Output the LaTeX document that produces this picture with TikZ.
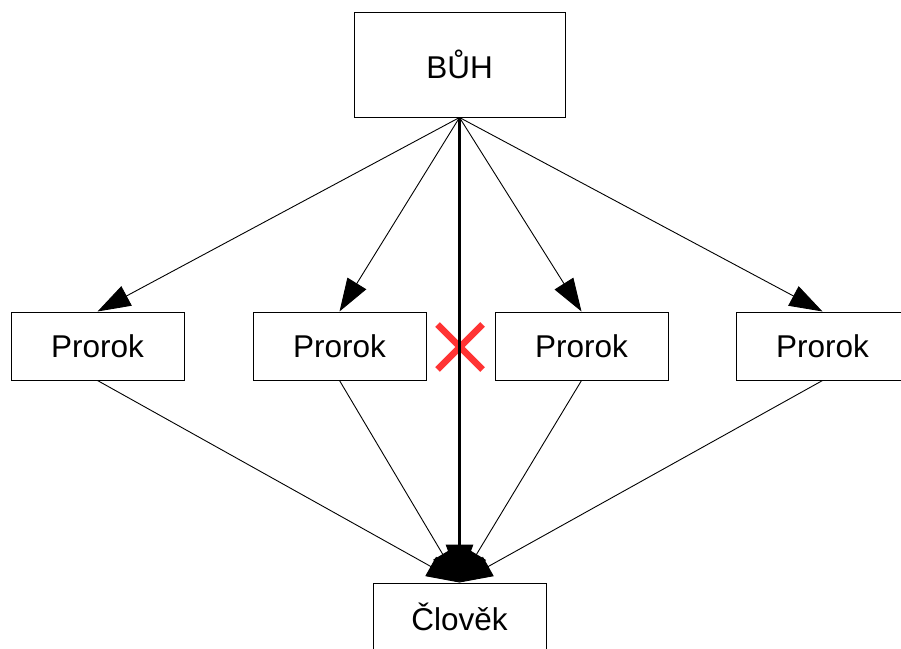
\documentclass[tikz,border=0pt]{standalone}
\usepackage{fontspec}
\setmainfont{Liberation Sans}
\usetikzlibrary{arrows.meta,calc}
\begin{document}
\begin{tikzpicture}[x=1pt,y=-1pt,
  box/.style={draw=black,line width=1pt,fill=white,inner sep=0pt,minimum height=68pt,minimum width=173pt,font=\fontsize{31.5}{37}\selectfont},
  thin arrow/.style={draw=black,line width=0.9pt,-{Triangle[length=33pt,width=22pt]}},
  thick arrow/.style={draw=black,line width=3pt,-{Triangle[length=38pt,width=27pt]}},
  cross/.style={draw={rgb,255:red,255;green,51;blue,51},line width=6.5pt}]
\useasboundingbox (0,0) rectangle (901,648);
\fill[white] (0,0) rectangle (901,648);
\node[box,minimum width=211pt,minimum height=105pt] (buh) at (459.5,64.5) {BŮH};
\node[box] (p1) at (97.5,346) {Prorok};
\node[box] (p2) at (339.5,346) {Prorok};
\node[box] (p3) at (581.5,346) {Prorok};
\node[box] (p4) at (822.5,346) {Prorok};
\node[box] (clovek) at (459.5,617) {Člověk};
\coordinate (xc) at (460,347);
\draw[cross] ($(xc)+(-22.5,-22.5)$) -- ($(xc)+(22.5,22.5)$);
\draw[cross] ($(xc)+(-22.5,22.5)$) -- ($(xc)+(22.5,-22.5)$);
\foreach \p in {p1,p2,p3,p4}{
  \draw[thin arrow] (buh.south) -- (\p.north);
  \draw[thin arrow] (\p.south) -- (clovek.north);
}
\draw[thick arrow] (buh.south) -- (clovek.north);
\end{tikzpicture}
\end{document}
